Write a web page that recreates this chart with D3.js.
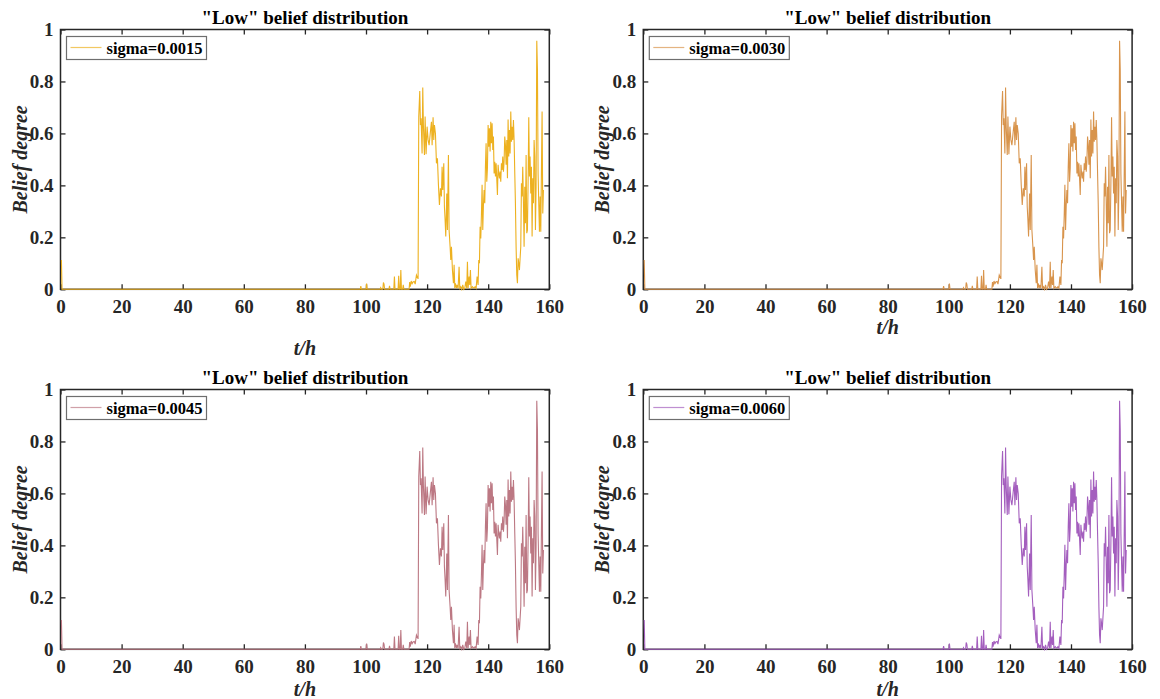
<!DOCTYPE html>
<html>
<head>
<meta charset="utf-8">
<script src="https://cdn.jsdelivr.net/npm/d3@7/dist/d3.min.js"></script>
<style>
  body { margin: 0; background: #fff; }
  text { font-family: "Liberation Serif", "Times New Roman", serif; }
</style>
</head>
<body>
<script>
var width = 1160;
var height = 699;

// data (same trace in all four panels)
var hours = [
  0.3, 0.5, 98.1, 98.3, 98.5, 100.0, 100.2, 100.4, 104.6, 104.8, 105.0, 105.5, 105.7, 105.9, 106.1,
  107.5, 107.7, 107.9, 109.1, 109.3, 109.5, 110.5, 110.7, 110.9, 111.2, 111.4, 111.6, 112.0, 112.2, 112.4,
  114.1, 114.3, 114.5, 114.8, 115.1, 115.4, 115.8, 116.1, 116.51, 117.05, 117.27, 117.60, 117.82, 118.04,
  118.36, 118.58, 118.80, 119.13, 119.35, 119.67, 120.00, 120.33, 120.65, 121.09, 121.42, 121.64, 121.96,
  122.18, 122.40, 122.73, 123.06, 123.38, 123.71, 124.04, 124.36, 124.69, 124.91, 125.13, 125.46, 125.67,
  125.89, 126.11, 126.44, 126.66, 126.98, 127.20, 127.53, 127.75, 127.97, 128.29, 128.62, 128.84, 129.06,
  129.27, 129.60, 129.82, 130.15, 130.47, 130.69, 131.02, 131.35, 131.67, 132.00, 132.33, 132.66, 132.98,
  133.20, 133.42, 133.75, 133.97, 134.18, 134.40, 134.84, 135.28, 135.71, 136.04, 136.37, 136.69, 136.91,
  137.13, 137.35, 137.57, 137.78, 138.00, 138.22, 138.44, 138.66, 138.88, 139.09, 139.31, 139.53, 139.75,
  139.97, 140.19, 140.40, 140.62, 140.84, 141.06, 141.28, 141.50, 141.71, 141.93, 142.15, 142.37, 142.59,
  142.80, 143.02, 143.24, 143.46, 143.68, 143.90, 144.11, 144.33, 144.55, 144.77, 144.99, 145.20, 145.42,
  145.64, 145.86, 146.08, 146.30, 146.51, 146.73, 146.95, 147.17, 147.39, 147.61, 147.82, 148.04, 148.26,
  148.48, 148.70, 148.91, 149.13, 149.35, 149.57, 149.79, 150.01, 150.22, 150.44, 150.66, 150.88, 151.10,
  151.31, 151.53, 151.75, 151.97, 152.19, 152.41, 152.62, 152.84, 153.06, 153.28, 153.50, 153.71, 153.93,
  154.15, 154.37, 154.59, 154.81, 155.02, 155.24, 155.46, 155.68, 155.90, 156.12, 156.33, 156.55, 156.77,
  156.99, 157.21, 157.43, 157.64, 157.86, 158.08
];
var belief = [
  0.113, 0, 0, 0.012, 0, 0, 0.022, 0, 0, 0.006, 0, 0, 0.026, 0.02, 0,
  0, 0.013, 0, 0, 0.049, 0, 0, 0.052, 0, 0, 0.074, 0, 0, 0.017, 0,
  0, 0.028, 0.01, 0.032, 0.022, 0.028, 0.03, 0.02, 0.055, 0.04, 0.665, 0.763, 0.632, 0.658,
  0.523, 0.777, 0.626, 0.517, 0.665, 0.520, 0.626, 0.575, 0.555, 0.607, 0.645, 0.555, 0.662,
  0.575, 0.632, 0.600, 0.485, 0.504, 0.402, 0.325, 0.389, 0.357, 0.472, 0.382, 0.485, 0.318,
  0.267, 0.203, 0.369, 0.228, 0.517, 0.228, 0.164, 0.113, 0.164, 0.074, 0.023, 0.094, 0.004,
  0.023, 0.004, 0.017, 0.004, 0.087, 0.004, 0.010, 0, 0.017, 0, 0.004, 0.030, 0.004,
  0.106, 0.004, 0.049, 0.017, 0.074, 0.004, 0.010, 0.004, 0.010, 0.004, 0.049, 0.017, 0.113,
  0.100, 0.241, 0.196, 0.286, 0.402, 0.228, 0.325, 0.382, 0.331, 0.472, 0.562, 0.414, 0.466,
  0.632, 0.549, 0.620, 0.530, 0.645, 0.562, 0.639, 0.536, 0.588, 0.446, 0.491, 0.434, 0.485,
  0.427, 0.363, 0.479, 0.446, 0.427, 0.453, 0.414, 0.485, 0.459, 0.511, 0.453, 0.491, 0.588,
  0.555, 0.479, 0.575, 0.427, 0.654, 0.511, 0.613, 0.523, 0.684, 0.568, 0.626, 0.575, 0.652,
  0.575, 0.446, 0.331, 0.164, 0.055, 0.023, 0.119, 0.100, 0.074, 0.119, 0.164, 0.408, 0.357,
  0.472, 0.337, 0.164, 0.395, 0.254, 0.517, 0.216, 0.228, 0.408, 0.662, 0.434, 0.511, 0.369,
  0.472, 0.203, 0.427, 0.331, 0.575, 0.511, 0.228, 0.395, 0.957, 0.844, 0.446, 0.331, 0.222,
  0.357, 0.222, 0.459, 0.684, 0.292, 0.382
];

var sigmas = ["0.0015", "0.0030", "0.0045", "0.0060"];
var colors = ["#EDB120", "#D8944C", "#BC7883", "#A45FBE"];
var xTicks = [0, 20, 40, 60, 80, 100, 120, 140, 160];
var yTicks = [0, 0.2, 0.4, 0.6, 0.8, 1];

var points = hours.map(function (t, i) { return { t: t, v: belief[i] }; });

var svg = d3.select("body").append("svg")
    .attr("width", width)
    .attr("height", height);

// panel frames: left, top, x-label baseline offset
var panels = [
  { left: 60.5, top: 29.5, xlab: 66 },
  { left: 643.3, top: 29.5, xlab: 45 },
  { left: 60.5, top: 389.5, xlab: 47 },
  { left: 643.3, top: 389.5, xlab: 47 }
];
var pw = 488.8, ph = 259.8;

var x = d3.scaleLinear().domain([0, 160]).range([0, pw]);
var y = d3.scaleLinear().domain([0, 1]).range([ph, 0]);

var axisColor = "#262626";

panels.forEach(function (p, k) {
  var g = svg.append("g")
      .attr("transform", "translate(" + p.left + "," + p.top + ")");

  // bottom axis with labels, ticks inward
  var gx = g.append("g")
      .attr("transform", "translate(0," + ph + ")")
      .call(d3.axisBottom(x).tickValues(xTicks).tickSizeInner(-5).tickSizeOuter(0).tickPadding(10));
  var gxt = g.append("g")
      .call(d3.axisTop(x).tickValues(xTicks).tickSizeInner(-5).tickSizeOuter(0).tickFormat(""));
  var gy = g.append("g")
      .call(d3.axisLeft(y).tickValues(yTicks).tickSizeInner(-5).tickSizeOuter(0).tickPadding(7)
        .tickFormat(function (d) { return d === 0 || d === 1 ? d3.format("d")(d) : d3.format(".1f")(d); }));
  var gyr = g.append("g")
      .attr("transform", "translate(" + pw + ",0)")
      .call(d3.axisRight(y).tickValues(yTicks).tickSizeInner(-5).tickSizeOuter(0).tickFormat(""));

  [gx, gxt, gy, gyr].forEach(function (a) {
    a.select(".domain").remove();
    a.selectAll("line").attr("stroke", axisColor).attr("stroke-width", 1.3);
    a.selectAll("text")
      .attr("fill", axisColor)
      .style("font-size", "19px")
      .style("font-weight", "bold");
  });

  g.append("rect")
      .attr("width", pw)
      .attr("height", ph)
      .attr("fill", "none")
      .attr("stroke", axisColor)
      .attr("stroke-width", 1.5);

  var line = d3.line()
      .x(function (d) { return x(d.t); })
      .y(function (d) { return y(d.v); });

  g.append("path")
      .datum(points)
      .attr("fill", "none")
      .attr("stroke", colors[k])
      .attr("stroke-width", 1.1)
      .attr("stroke-linejoin", "miter")
      .attr("d", line);

  // title
  g.append("text")
      .attr("x", pw / 2)
      .attr("y", -6)
      .attr("text-anchor", "middle")
      .attr("fill", "#000")
      .style("font-size", "19px")
      .style("font-weight", "bold")
      .text('"Low" belief distribution');

  // axis labels
  g.append("text")
      .attr("x", pw / 2)
      .attr("y", ph + p.xlab)
      .attr("text-anchor", "middle")
      .attr("fill", axisColor)
      .style("font-size", "20px")
      .style("font-weight", "bold")
      .style("font-style", "italic")
      .text("t/h");

  g.append("text")
      .attr("transform", "translate(-34," + ph / 2 + ") rotate(-90)")
      .attr("text-anchor", "middle")
      .attr("fill", axisColor)
      .style("font-size", "20px")
      .style("font-weight", "bold")
      .style("font-style", "italic")
      .text("Belief degree");

  // legend
  var lg = g.append("g").attr("transform", "translate(6,7)");
  lg.append("rect")
      .attr("width", 140)
      .attr("height", 23)
      .attr("fill", "#fff")
      .attr("stroke", "#6e6e6e")
      .attr("stroke-width", 1.2);
  lg.append("line")
      .attr("x1", 4).attr("x2", 35)
      .attr("y1", 11).attr("y2", 11)
      .attr("stroke", colors[k])
      .attr("stroke-opacity", 0.7)
      .attr("stroke-width", 1.2);
  lg.append("text")
      .attr("x", 40)
      .attr("y", 17)
      .attr("fill", "#000")
      .style("font-size", "16.5px")
      .style("font-weight", "bold")
      .text("sigma=" + sigmas[k]);
});
</script>
</body>
</html>
